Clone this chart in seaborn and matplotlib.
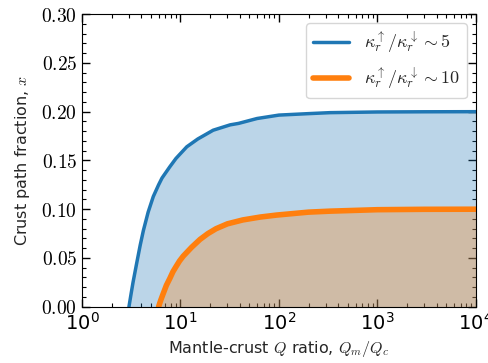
import numpy as np
import pandas as pd
import matplotlib
matplotlib.use("Agg")
import matplotlib.pyplot as plt
import seaborn as sns
from matplotlib.ticker import MultipleLocator, LogLocator

# Values
q_blue = [3.0, 3.15, 3.3, 3.6, 3.9, 4.2, 4.7, 5.3, 6.0, 6.5, 7.8, 9.0, 10.0, 11.6, 15.0,
          21.5, 32.0, 39.0, 60.0, 100.0, 200.0, 330.0, 1000.0, 3000.0, 10000.0]
x_blue = [0.0, 0.013, 0.025, 0.045, 0.063, 0.078, 0.097, 0.113, 0.125, 0.132, 0.1435, 0.152,
          0.157, 0.164, 0.172, 0.181, 0.1865, 0.188, 0.193, 0.1965, 0.198, 0.199, 0.1997,
          0.1999, 0.2]
q_orange = [6.0, 6.3, 6.6, 7.2, 7.8, 8.4, 9.0, 9.8, 10.7, 13.0, 15.8, 19.0, 23.0, 30.0, 43.0,
            65.0, 95.0, 200.0, 330.0, 1000.0, 3000.0, 10000.0]
x_orange = [0.0, 0.0065, 0.012, 0.022, 0.029, 0.036, 0.041, 0.047, 0.052, 0.061, 0.069, 0.075,
            0.080, 0.085, 0.089, 0.092, 0.094, 0.097, 0.098, 0.0995, 0.0999, 0.1]
labels = [r"$\kappa_r^{\uparrow}/\kappa_r^{\downarrow}\sim 5$",
          r"$\kappa_r^{\uparrow}/\kappa_r^{\downarrow}\sim 10$"]

sns.set_style("ticks")
plt.rcParams["font.family"] = ["DejaVu Sans"]
plt.rcParams["mathtext.fontset"] = "cm"
plt.rcParams["axes.formatter.use_mathtext"] = True

df_blue = pd.DataFrame({"Q": q_blue, "x": x_blue})
df_orange = pd.DataFrame({"Q": q_orange, "x": x_orange})

fig, ax = plt.subplots(figsize=(4.88, 3.63), dpi=100)
fig.subplots_adjust(left=0.168, right=0.975, bottom=0.155, top=0.961)

sns.lineplot(data=df_blue, x="Q", y="x", ax=ax, color="C0", lw=2.5, label=labels[0])
sns.lineplot(data=df_orange, x="Q", y="x", ax=ax, color="C1", lw=4, label=labels[1])
ax.fill_between(q_blue, x_blue, 0, color="C0", alpha=0.3, lw=0)
ax.fill_between(q_orange, x_orange, 0, color="C1", alpha=0.3, lw=0)

ax.set_xscale("log")
ax.set_xlim(1, 1e4)
ax.set_ylim(0, 0.30)
ax.yaxis.set_major_locator(MultipleLocator(0.05))
ax.yaxis.set_minor_locator(MultipleLocator(0.01))
ax.xaxis.set_minor_locator(LogLocator(base=10, subs=np.arange(2, 10), numticks=20))
ax.yaxis.set_major_formatter(plt.FuncFormatter(lambda v, p: r"$\mathrm{%.2f}$" % v))

for side in ["top", "right", "left", "bottom"]:
    ax.spines[side].set_visible(True)
    ax.spines[side].set_color("black")
ax.tick_params(which="both", direction="in", top=True, right=True, colors="black",
               labelsize=14)
ax.tick_params(which="major", length=6, width=1)
ax.tick_params(which="minor", length=3, width=0.8)

ax.set_xlabel(r"Mantle-crust $Q$ ratio, $Q_m/Q_c$", fontsize=11.5, labelpad=4)
ax.set_ylabel(r"Crust path fraction, $x$", fontsize=11.5, labelpad=7)
ax.legend(loc="upper right", fontsize=13, frameon=True, labelspacing=0.6)

fig.savefig("out.png", dpi=100)
